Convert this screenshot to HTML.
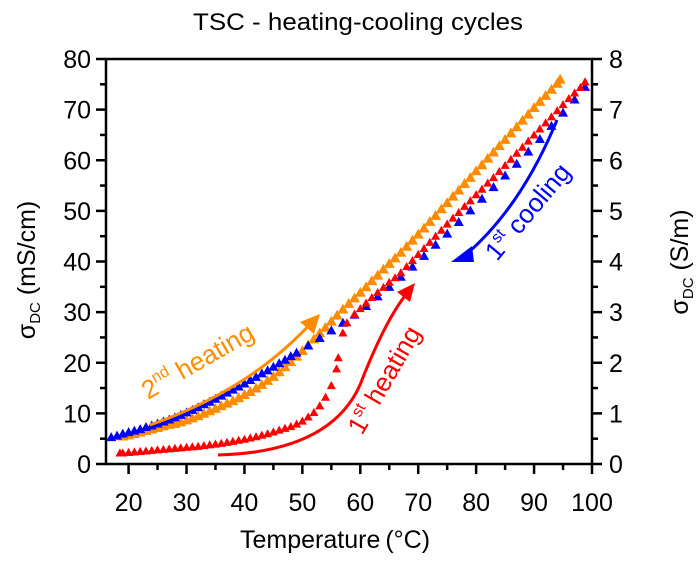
<!DOCTYPE html>
<html><head><meta charset="utf-8"><style>
body{margin:0;background:#fff;}
svg text{font-family:"Liberation Sans",Arial,sans-serif;}
</style></head><body>
<svg id="chart" width="700" height="572" xmlns="http://www.w3.org/2000/svg">
<text x="358" y="30" font-size="24" text-anchor="middle" textLength="330" lengthAdjust="spacingAndGlyphs">TSC - heating-cooling cycles</text>
<g id="axes"></g>
<g id="series"></g>
<g id="annotations">
 <path d="M150,425 Q250,390 312,322" fill="none" stroke="#ff8c00" stroke-width="3"/>
 <polygon points="320,314 300,322 314,334" fill="#ff8c00"/>
 <text transform="translate(148,400) rotate(-30)" font-size="26" fill="#ff8c00">2<tspan font-size="16" dy="-11">nd</tspan><tspan dy="11"> heating</tspan></text>
 <path d="M218,455 Q330,452 360,385 Q385,320 408,292" fill="none" stroke="#ff0000" stroke-width="3"/>
 <polygon points="415,283 397,292 410,302" fill="#ff0000"/>
 <text transform="translate(362,436) rotate(-60)" font-size="26" fill="#ff0000">1<tspan font-size="16" dy="-11">st</tspan><tspan dy="11"> heating</tspan></text>
 <path d="M557,120 Q520,210 462,258" fill="none" stroke="#0000ff" stroke-width="3"/>
 <polygon points="451,262 472,246 474,262" fill="#0000ff"/>
 <text transform="translate(497,262) rotate(-50)" font-size="26" fill="#0000ff">1<tspan font-size="16" dy="-11">st</tspan><tspan dy="11"> cooling</tspan></text>
</g>
<text x="240" y="548" font-size="25">Temperature<tspan dx="5">(°C)</tspan></text>
<text transform="translate(35,270) rotate(-90)" font-size="25" text-anchor="middle">σ<tspan font-size="15" dy="5">DC</tspan><tspan dy="-5"> (mS/cm)</tspan></text>
<text transform="translate(688,262) rotate(-90)" font-size="25" text-anchor="middle">σ<tspan font-size="15" dy="5">DC</tspan><tspan dy="-5"> (S/m)</tspan></text>
</svg>
<script>
const xTicks=[20,30,40,50,60,70,80,90,100];
const yTicksLeft=[0,10,20,30,40,50,60,70,80];
const yTicksRight=[0,1,2,3,4,5,6,7,8];
const orangeT=[19,20,21,22,23,24,25,26,27,28,29,30,31,32,33,34,35,36,37,38,39,40,41,42,43,44,45,46,47,48,49,50,51,52,53,54,55,56,57,58,59,60,61,62,63,64,65,66,67,68,69,70,71,72,73,74,75,76,77,78,79,80,81,82,83,84,85,86,87,88,89,90,91,92,93,94,94.5];
const orangeS=[5.5,5.7,6.0,6.3,6.6,6.9,7.2,7.5,7.8,8.0,8.3,8.7,9.1,9.5,10.0,10.5,11.0,11.5,12.0,12.5,13.1,13.7,14.3,15.0,15.7,16.5,17.3,18.2,19.2,20.2,21.3,22.4,23.5,24.7,25.9,27.0,28.2,29.4,30.6,31.7,32.8,33.9,35.0,36.2,37.3,38.5,39.6,40.7,41.8,43.0,44.2,45.4,46.6,47.9,49.1,50.4,51.6,52.9,54.1,55.4,56.6,57.9,59.1,60.4,61.6,62.9,64.1,65.4,66.6,67.9,69.1,70.4,71.6,72.8,74.0,75.2,76];
const redT=[18.5,19,20,21,22,23,24,25,26,27,28,29,30,31,32,33,34,35,36,37,38,39,40,41,42,43,44,45,46,47,48,49,50,51,52,53,54,55,55.9,56.2,57,57.7,59,60,61,62,63,64,65,66,67,68,69,70,71,72,73,74,75,76,77,78,79,80,81,82,83,84,85,86,87,88,89,90,91,92,93,94,95,96,97,98,98.8];
const redS=[2.2,2.2,2.3,2.4,2.5,2.6,2.7,2.8,2.9,3.0,3.1,3.2,3.3,3.4,3.5,3.65,3.8,3.95,4.1,4.3,4.5,4.7,4.9,5.15,5.4,5.7,6.0,6.35,6.7,7.05,7.4,7.9,8.5,9.3,10.2,11.5,13.2,15.5,18.8,21,25.9,27.9,29.6,30.7,31.8,32.9,33.9,34.9,35.9,36.8,37.8,39,40.2,41.4,42.6,43.8,45,46.2,47.4,48.6,49.7,50.9,52,53.2,54.3,55.5,56.6,57.8,59,60.2,61.4,62.6,63.8,65,66.2,67.4,68.6,69.8,71,72.2,73.3,74.4,75.5];
const blueT=[98.8,97,95,93,91,89,87,85,83,81,79,77,75,73,71,69,67,65,63,61,59,57,55,53,51,49,48,47,46,45,44,43,42,41,40,39,38,37,36,35,34,33,32,31,30,29,28,27,26,25,24,23,22,21,20,19,18,17];
const blueS=[74.5,72,69.4,66.8,64.2,61.7,59.3,57,54.7,52.4,50.1,47.8,45.5,43.3,41.1,39,37,35,33.1,31.2,29.5,27.9,26.4,24.9,23.4,22,21.3,20.6,19.9,19.2,18.5,17.9,17.2,16.6,15.9,15.3,14.7,14.1,13.5,12.9,12.3,11.8,11.2,10.7,10.2,9.7,9.2,8.8,8.4,8,7.6,7.3,6.9,6.6,6.3,6,5.6,5.3];

const X0=106,X1=592,Y0=464,Y1=59,xmin=16.1,xmax=100,ymin=0,ymax=80;
function sx(v){return X0+(v-xmin)/(xmax-xmin)*(X1-X0);}
function sy(v){return Y0-(v-ymin)/(ymax-ymin)*(Y0-Y1);}
function syR(v){return sy(v*10);}
const NS="http://www.w3.org/2000/svg";
function mk(tag,attrs,parent){const e=document.createElementNS(NS,tag);for(const k in attrs)e.setAttribute(k,attrs[k]);parent.appendChild(e);return e;}
const axes=document.getElementById('axes');
const frame=mk('rect',{x:X0,y:Y1,width:X1-X0,height:Y0-Y1,fill:'none',stroke:'#000','stroke-width':2.5},axes);


xTicks.forEach((t,i)=>{
  const x=sx(t);
  const l=mk('line',{x1:x,x2:x,y1:Y0,y2:Y0+10,stroke:'#000','stroke-width':2.5},axes);
  
  
  const tx=mk('text',{x:x,y:511,'font-size':25,'text-anchor':'middle'},axes);tx.textContent=t;
  
  
  if(i<xTicks.length-1){const m=sx(t+5);const ml=mk('line',{x1:m,x2:m,y1:Y0,y2:Y0+6,stroke:'#000','stroke-width':2.5},axes);
  
  }
});
yTicksLeft.forEach((t,i)=>{
  const y=sy(t);
  const l=mk('line',{x1:X0-10,x2:X0,y1:y,y2:y,stroke:'#000','stroke-width':2.5},axes);
  
  
  const tx=mk('text',{x:X0-15,y:y+9,'font-size':25,'text-anchor':'end'},axes);tx.textContent=t;
  
  
  if(i<yTicksLeft.length-1){const m=sy(t+5);const ml=mk('line',{x1:X0-6,x2:X0,y1:m,y2:m,stroke:'#000','stroke-width':2.5},axes);
  
  }
});
yTicksRight.forEach((t,i)=>{
  const y=syR(t);
  const l=mk('line',{x1:X1,x2:X1+10,y1:y,y2:y,stroke:'#000','stroke-width':2.5},axes);
  
  
  const tx=mk('text',{x:X1+17,y:y+9,'font-size':25,'text-anchor':'start'},axes);tx.textContent=t;
  
  
  if(i<yTicksRight.length-1){const m=syR(t+0.5);const ml=mk('line',{x1:X1,x2:X1+6,y1:m,y2:m,stroke:'#000','stroke-width':2.5},axes);
  
  }
});
const series=document.getElementById('series');
function draw(T,S,color,name,size){
  const g=mk('g',{fill:color},series);
  
  
  T.forEach((t,i)=>{const x=sx(t),y=sy(S[i]);
    const p=mk('polygon',{points:`${x},${y-size} ${x-size},${y+size*0.8} ${x+size},${y+size*0.8}`},g);
    
    
  });
}
draw(orangeT,orangeS,'#ff8c00','second-heating-series',5.5);
draw(blueT,blueS,'#0000ff','first-cooling-series',5);
draw(redT,redS,'#ff0000','first-heating-series',4.5);
</script>
</body></html>
